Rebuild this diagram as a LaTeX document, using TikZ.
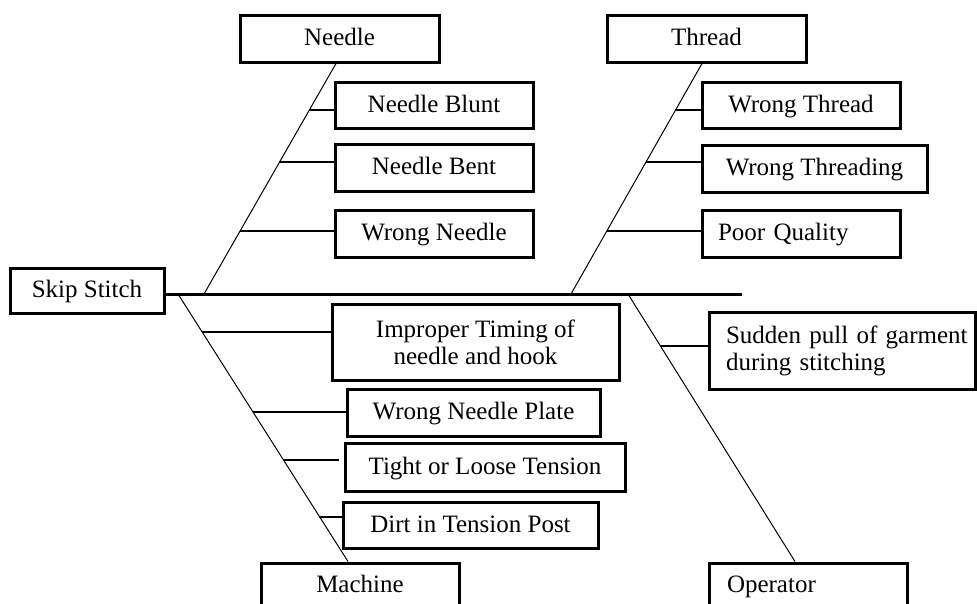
\documentclass[tikz,border=0pt]{standalone}
\usepackage{fontspec}
\setmainfont{Liberation Serif}
\usetikzlibrary{calc}
\begin{document}
\begin{tikzpicture}[x=1pt,y=-1pt,
  mbox/.style={draw, line width=3pt, rectangle, inner sep=0pt,
    font=\fontsize{25}{27}\selectfont, align=center},
  cbox/.style={mbox, text height=18pt, text depth=4pt},
  lbox/.style={cbox, align=left},
  mlbox/.style={mbox, align=left},
  bone/.style={line width=1pt},
  twig/.style={line width=2pt},
  spine/.style={line width=3pt}]
\useasboundingbox (0,0) rectangle (977,603);

% head and category boxes
\node[cbox, minimum width=154pt, minimum height=45pt] (skip) at (87,290.5) {Skip Stitch};
\node[cbox, minimum width=199pt, minimum height=47pt] (needle) at (339.5,38.5) {Needle};
\node[cbox, minimum width=199pt, minimum height=47pt] (thread) at (706.5,38.5) {Thread};
\node[cbox, minimum width=198pt, minimum height=44pt] (machine) at (360,585) {Machine};
\node[lbox, text width=198pt, minimum height=44pt] (operator) at (808,585) {\hspace*{18pt}Operator};

% causes
\node[cbox, minimum width=198pt, minimum height=46pt] (blunt) at (434,105) {Needle Blunt};
\node[cbox, minimum width=198pt, minimum height=47pt] (bent) at (434,167.5) {Needle Bent};
\node[cbox, minimum width=198pt, minimum height=47pt] (wneedle) at (434,233.5) {Wrong Needle};
\node[cbox, minimum width=198pt, minimum height=46pt] (wthread) at (801,105) {Wrong Thread};
\node[cbox, minimum width=225pt, minimum height=47pt] (wthreading) at (814.5,168.5) {Wrong Threading};
\node[lbox, text width=198pt, minimum height=47pt] (poor) at (801,233.5) {\hspace*{16pt}Poor Quality};
\node[mbox, minimum width=287pt, minimum height=76pt] (improper) at (475.5,342) {Improper Timing of\\needle and hook};
\node[cbox, minimum width=253pt, minimum height=47pt] (plate) at (473.5,412.5) {Wrong Needle Plate};
\node[cbox, minimum width=280pt, minimum height=48pt] (tension) at (485,467) {Tight or Loose Tension};
\node[cbox, minimum width=255pt, minimum height=46pt] (dirt) at (470.5,525) {Dirt in Tension Post};
\node[mlbox, text width=266pt, minimum height=77pt] (sudden) at (842,350.5) {\hspace*{17pt}Sudden pull of garment\\\hspace*{17pt}during stitching};

% spine
\coordinate (spR) at (742,294);
\draw[spine] (skip.east |- spR) -- (spR);

% bones
\coordinate (nBot) at (204,294);
\coordinate (tBot) at (571,294);
\coordinate (mTop) at (178,294);
\coordinate (oTop) at (628,294);
\draw[bone] ([xshift=-3.5pt]needle.south) -- (nBot);
\draw[bone] ([xshift=-4.5pt]thread.south) -- (tBot);
\draw[bone] (mTop) -- ([xshift=-12pt]machine.north);
\draw[bone] (oTop) -- ([xshift=-13pt]operator.north);

% twigs
\coordinate (t1) at (308.7,110);
\coordinate (t2) at (279.1,162);
\coordinate (t3) at (239.8,231);
\coordinate (t4) at (674.9,110);
\coordinate (t5) at (645.5,162);
\coordinate (t6) at (606.6,231);
\coordinate (t7) at (202,332);
\coordinate (t8) at (252.6,412);
\coordinate (t9) at (282.9,460);
\coordinate (t10) at (318.9,517);
\coordinate (t11) at (660.3,346);
\draw[twig] (t1) -- (t1 -| blunt.west);
\draw[twig] (t2) -- (t2 -| bent.west);
\draw[twig] (t3) -- (t3 -| wneedle.west);
\draw[twig] (t4) -- (t4 -| wthread.west);
\draw[twig] (t5) -- (t5 -| wthreading.west);
\draw[twig] (t6) -- (t6 -| poor.west);
\draw[twig] (t7) -- (t7 -| improper.west);
\draw[twig] (t8) -- (t8 -| plate.west);
\draw[twig] (t9) -- ($(t9 -| tension.west)+(-5,0)$);
\draw[twig] (t10) -- (t10 -| dirt.west);
\draw[twig] (t11) -- (t11 -| sudden.west);
\end{tikzpicture}
\end{document}
